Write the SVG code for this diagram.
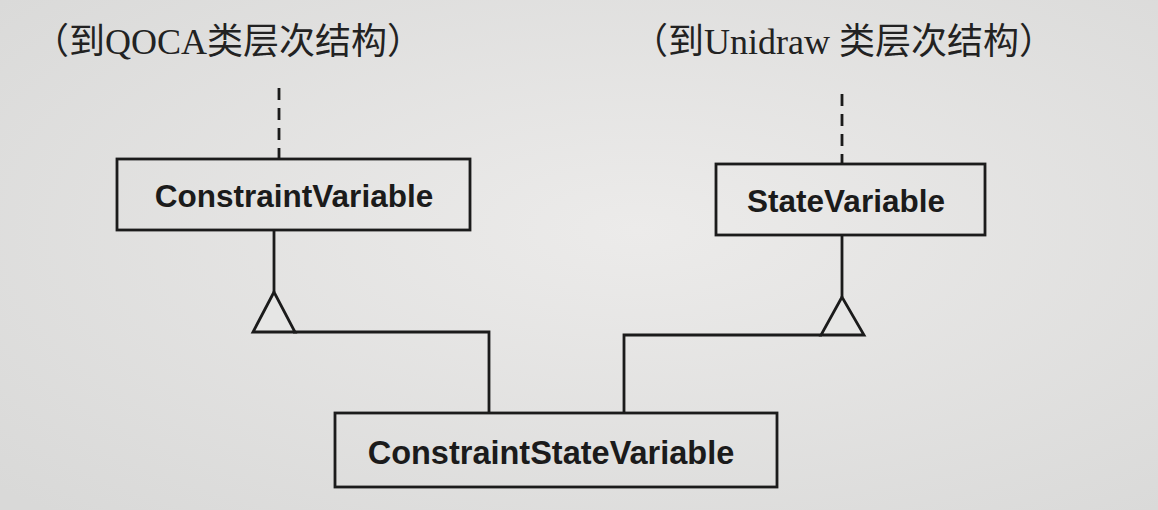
<svg xmlns="http://www.w3.org/2000/svg" width="1158" height="510" viewBox="0 0 1158 510">
  <defs>
    <radialGradient id="bg" cx="0.55" cy="0.45" r="0.75">
      <stop offset="0" stop-color="#ecebea"/>
      <stop offset="1" stop-color="#d9d9d8"/>
    </radialGradient>
  </defs>
  <style>
    .box { fill: none; stroke: #1b1b1b; stroke-width: 2.8; }
    .lbl { font-family: "Liberation Sans", Arial, sans-serif; font-weight: bold; font-size: 31.5px; fill: #1b1b1b; text-anchor: middle; }
    .hdr { font-family: "Liberation Serif", "Noto Sans CJK SC", serif; font-size: 36px; fill: #222; }
    .line { fill: none; stroke: #1b1b1b; stroke-width: 2.8; }
    .dash { fill: none; stroke: #1b1b1b; stroke-width: 2.8; stroke-dasharray: 12 8; }
    .tri { fill: #e6e6e5; stroke: #1b1b1b; stroke-width: 2.8; stroke-linejoin: miter; }
  </style>
  <rect width="1158" height="510" fill="url(#bg)"/>

  <text class="hdr" x="33" y="54">（到QOCA类层次结构）</text>
  <text class="hdr" x="632" y="54">（到Unidraw 类层次结构）</text>

  <g id="connectors">
    <path class="dash" d="M279 88 V159"/>
    <path class="dash" d="M842 94 V164"/>
    <path class="line" d="M274 230 V292"/>
    <path class="line" d="M842 235 V297"/>
    <path class="line" d="M293 332 H489 V413"/>
    <path class="line" d="M822 335 H624 V413"/>
    <polygon class="tri" points="274,292 253,332 295,332"/>
    <polygon class="tri" points="842,297 821,335 864,335"/>
  </g>

  <g id="ConstraintVariable">
    <rect class="box" x="117" y="159" width="353" height="71"/>
    <text class="lbl" x="294" y="207">ConstraintVariable</text>
  </g>

  <g id="StateVariable">
    <rect class="box" x="716" y="164" width="269" height="71"/>
    <text class="lbl" x="846" y="212">StateVariable</text>
  </g>

  <g id="ConstraintStateVariable">
    <rect class="box" x="335" y="413" width="442" height="74"/>
    <text class="lbl" x="551" y="464" style="font-size:32.5px">ConstraintStateVariable</text>
  </g>
</svg>
